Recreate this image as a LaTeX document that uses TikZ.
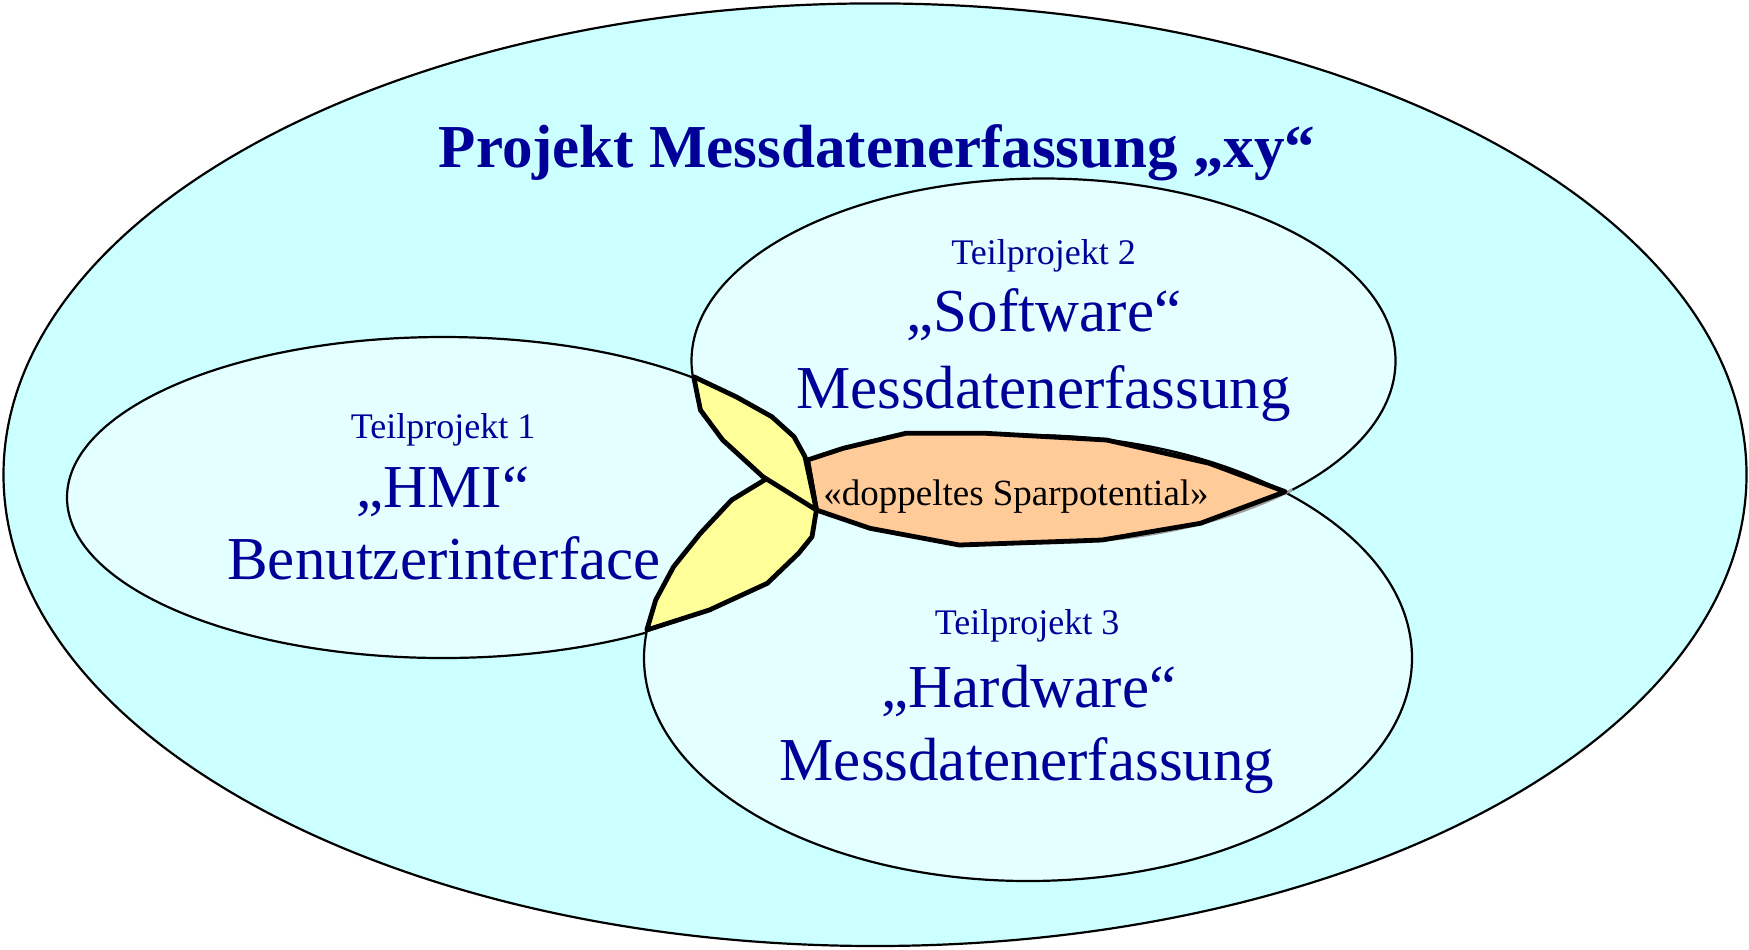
\documentclass[tikz,border=0pt]{standalone}
\usepackage{fontspec}
\setmainfont{Liberation Serif}
\definecolor{outerfill}{HTML}{CCFFFF}
\definecolor{innerfill}{HTML}{E3FFFF}
\definecolor{txtblue}{HTML}{000099}
\definecolor{lensyellow}{HTML}{FFFF99}
\definecolor{lensorange}{HTML}{FFCC99}
\tikzset{
  setring/.style={draw=black, line width=1.1pt},
  subring/.style={setring, fill=innerfill},
  lens/.style={draw=black, line width=2.4pt, line join=round},
  bigtxt/.style={text=txtblue, font=\fontsize{30.5}{36}\selectfont, anchor=base, inner sep=0pt},
  smalltxt/.style={text=txtblue, font=\fontsize{18}{22}\selectfont, anchor=base, inner sep=0pt},
  titletxt/.style={text=txtblue, font=\bfseries\fontsize{30.5}{36}\selectfont, anchor=base, inner sep=0pt},
  lenstxt/.style={text=black, font=\fontsize{18.5}{22}\selectfont, anchor=base, inner sep=0pt},
}
\begin{document}
\begin{tikzpicture}[x=0.5pt,y=-0.5pt]
\useasboundingbox (0,0) rectangle (1749,949);
\fill[white] (0,0) rectangle (1749,949);
% outer project ellipse
\draw[setring, fill=outerfill] (875,474.7) ellipse [x radius=871.5, y radius=471.3];
% sub-project ellipses
\draw[subring] (443,497.5) ellipse [x radius=376, y radius=160.5];
\draw[subring] (1043.5,360.8) ellipse [x radius=352, y radius=182.3];
\draw[subring] (1028,658) ellipse [x radius=384, y radius=223];
% grey trace of ellipse 2 lower edge
\draw[gray!75, line width=1.2pt] plot[domain=45:106, samples=60] ({1043.5+352*cos(\x)},{360.8+182.3*sin(\x)});
% overlap regions
\draw[lens, fill=lensorange] (807.5,460) -- (843.2,448.3) -- (905.7,433.3) -- (986,433.3) -- (1106.6,440) -- (1209.3,463.3) -- (1285.2,491.7) -- (1200.4,523.3) -- (1102,540) -- (959.3,545) -- (870,528.3) -- (816.4,510) -- cycle;
\draw[lens, fill=lensyellow] (646.8,630) -- (655.7,600) -- (673.6,566.7) -- (700.4,533.3) -- (731.6,500) -- (767.3,478.3) -- (807.5,460) -- (816.4,510) -- (812,536.7) -- (798.6,553.3) -- (767.3,583.3) -- (709.3,610) -- cycle;
\draw[lens, fill=lensyellow] (693.7,376.7) -- (736,396.7) -- (771.8,416.7) -- (794,436.7) -- (805,456.7) -- (810,480) -- (816.4,510) -- (762.9,476.7) -- (722.7,440) -- (700.4,410) -- cycle;
% texts
\node[titletxt] (title) at (877,167) {Projekt Messdatenerfassung „xy“};
\node[smalltxt] (t1a) at (443,438) {Teilprojekt 1};
\node[bigtxt] (t1b) at (443,507) {„HMI“};
\node[bigtxt] (t1c) at (444,579) {Benutzerinterface};
\node[smalltxt] (t2a) at (1043.5,264.5) {Teilprojekt 2};
\node[bigtxt] (t2b) at (1044,331) {„Software“};
\node[bigtxt] (t2c) at (1043.5,408) {Messdatenerfassung};
\node[smalltxt] (t3a) at (1027,634) {Teilprojekt 3};
\node[bigtxt] (t3b) at (1029,707) {„Hardware“};
\node[bigtxt] (t3c) at (1027,780) {Messdatenerfassung};
\node[lenstxt] (spar) at (1016,505) {«doppeltes Sparpotential»};
\end{tikzpicture}
\end{document}
